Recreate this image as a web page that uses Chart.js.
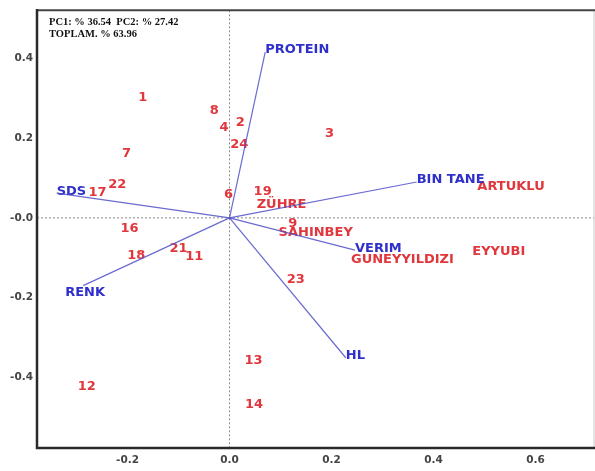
<!DOCTYPE html>
<html>
<head>
<meta charset="utf-8">
<script src="https://cdn.jsdelivr.net/npm/chart.js@4/dist/chart.umd.min.js"></script>
<style>
  body { margin: 0; background: #fff; }
</style>
</head>
<body>
<canvas id="biplot" width="595" height="471"></canvas>
<script>
// genotype scores (PC1, PC2)
const genotypeNames = ['1', '2', '3', '4', '6', '7', '8', '9', '11', '12', '13', '14', '16', '17', '18', '19', '21', '22', '23', '24',
  'ZÜHRE', 'SAHINBEY', 'GUNEYYILDIZI', 'EYYUBI', 'ARTUKLU'];
const genotypePC1 = [-0.170, 0.021, 0.196, -0.011, -0.002, -0.202, -0.030, 0.124, -0.069, -0.280, 0.047, 0.048, -0.196, -0.259, -0.183, 0.065, -0.100, -0.220, 0.130, 0.019,
  0.102, 0.169, 0.339, 0.528, 0.552];
const genotypePC2 = [0.301, 0.240, 0.211, 0.227, 0.059, 0.161, 0.268, -0.015, -0.098, -0.423, -0.359, -0.469, -0.028, 0.064, -0.095, 0.066, -0.077, 0.084, -0.154, 0.184,
  0.032, -0.038, -0.105, -0.084, 0.078];

// trait loadings
const traitNames = ['PROTEIN', 'BIN TANE', 'SDS', 'VERIM', 'HL', 'RENK'];
const traitPC1 = [0.070, 0.367, -0.339, 0.246, 0.228, -0.287];
const traitPC2 = [0.416, 0.090, 0.062, -0.081, -0.351, -0.170];

const xTicks = [-0.2, 0.0, 0.2, 0.4, 0.6];
const yTicks = [-0.4, -0.2, 0.0, 0.2, 0.4];
const headerLines = ['PC1: % 36.54  PC2: % 27.42', 'TOPLAM. % 63.96'];

const RED = '#e0363c';
const BLUE = '#2f2fcc';
const LINE = 'rgba(80, 80, 200, 0.85)';
const LABEL_FONT = 'bold 13px "DejaVu Sans"';

const genotypeData = genotypeNames.map((n, i) => ({ x: genotypePC1[i], y: genotypePC2[i] }));

const traitSets = traitNames.map((n, i) => ({
  label: n,
  data: [{ x: 0, y: 0 }, { x: traitPC1[i], y: traitPC2[i] }],
  showLine: true,
  borderColor: LINE,
  borderWidth: 1.2,
  pointRadius: 0,
}));

const biplotDecor = {
  id: 'biplotDecor',
  beforeDatasetsDraw(chart) {
    const { ctx, chartArea: a, scales } = chart;
    const x0 = scales.x.getPixelForValue(0);
    const y0 = scales.y.getPixelForValue(0);
    ctx.save();
    // zero lines
    ctx.strokeStyle = '#8a8a8a';
    ctx.lineWidth = 1;
    ctx.setLineDash([2, 2]);
    ctx.beginPath();
    ctx.moveTo(x0, a.top); ctx.lineTo(x0, a.bottom);
    ctx.moveTo(a.left, y0); ctx.lineTo(a.right, y0);
    ctx.stroke();
    ctx.setLineDash([]);

    // genotype labels
    ctx.font = LABEL_FONT;
    ctx.fillStyle = RED;
    ctx.textAlign = 'center';
    ctx.textBaseline = 'middle';
    const gMeta = chart.getDatasetMeta(0);
    gMeta.data.forEach((pt, i) => {
      ctx.fillText(genotypeNames[i], pt.x, pt.y);
    });

    // trait labels at vector tips
    ctx.fillStyle = BLUE;
    traitNames.forEach((n, i) => {
      const tip = chart.getDatasetMeta(i + 1).data[1];
      if (n === 'RENK') {
        ctx.textAlign = 'center';
        ctx.fillText(n, tip.x + 2, tip.y + 7);
      } else {
        ctx.textAlign = 'left';
        ctx.fillText(n, tip.x, tip.y - 2);
      }
    });

    // header
    ctx.font = 'bold 10.5px "Liberation Serif"';
    ctx.fillStyle = '#111';
    ctx.textAlign = 'left';
    ctx.textBaseline = 'alphabetic';
    ctx.fillText(headerLines[0], a.left + 12, a.top + 15);
    ctx.fillText(headerLines[1], a.left + 12, a.top + 27);
    ctx.restore();
  },
  afterDraw(chart) {
    const { ctx, chartArea: a } = chart;
    ctx.save();
    ctx.lineCap = 'square';
    // right edge, faint
    ctx.strokeStyle = '#c8c8c8';
    ctx.lineWidth = 1;
    ctx.beginPath();
    ctx.moveTo(a.right, a.top); ctx.lineTo(a.right, a.bottom);
    ctx.stroke();
    // top edge
    ctx.strokeStyle = '#444';
    ctx.lineWidth = 2;
    ctx.beginPath();
    ctx.moveTo(a.left, a.top); ctx.lineTo(a.right, a.top);
    ctx.stroke();
    // left and bottom edges
    ctx.strokeStyle = '#2a2a2a';
    ctx.lineWidth = 2.5;
    ctx.beginPath();
    ctx.moveTo(a.left, a.top); ctx.lineTo(a.left, a.bottom); ctx.lineTo(a.right, a.bottom);
    ctx.stroke();
    ctx.restore();
  },
};

const tickFont = { family: '"DejaVu Sans"', size: 10.5, weight: 'bold' };

new Chart(document.getElementById('biplot'), {
  type: 'scatter',
  data: {
    datasets: [{
      label: 'genotypes',
      data: genotypeData,
      pointRadius: 0,
      borderColor: RED,
      backgroundColor: RED,
    }, ...traitSets],
  },
  options: {
    responsive: false,
    animation: false,
    layout: { padding: { top: 6, right: 1, left: 0, bottom: 0 } },
    plugins: {
      legend: { display: false },
      tooltip: { enabled: false },
    },
    scales: {
      x: {
        type: 'linear',
        min: -0.3775,
        max: 0.7147,
        afterBuildTicks: (s) => { s.ticks = xTicks.map((v) => ({ value: v })); },
        afterFit: (s) => { s.height = 23; },
        grid: { display: false, drawTicks: false },
        border: { display: false },
        ticks: {
          font: tickFont,
          color: '#444',
          padding: 6,
          maxRotation: 0,
          callback: (v) => v.toFixed(1),
        },
      },
      y: {
        type: 'linear',
        min: -0.5774,
        max: 0.5207,
        afterBuildTicks: (s) => { s.ticks = yTicks.map((v) => ({ value: v })); },
        afterFit: (s) => { s.width = 37; },
        grid: { display: false, drawTicks: false },
        border: { display: false },
        ticks: {
          font: tickFont,
          color: '#444',
          padding: 4,
          callback: (v) => (v === 0 ? '-0.0' : v.toFixed(1)),
        },
      },
    },
  },
  plugins: [biplotDecor],
});
</script>
</body>
</html>
